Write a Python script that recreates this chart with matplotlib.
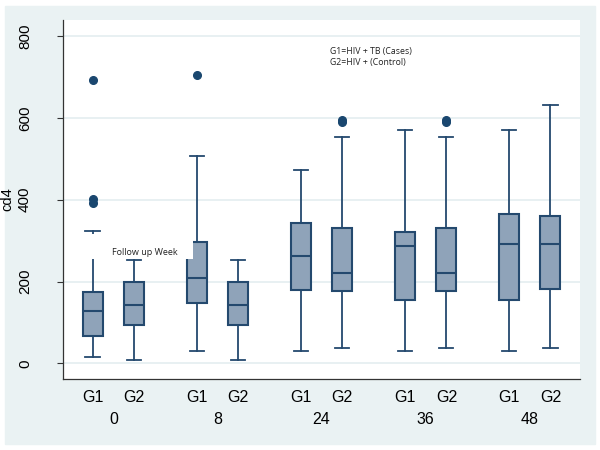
import matplotlib.pyplot as plt
from matplotlib.patches import Rectangle
from matplotlib.transforms import blended_transform_factory

# datos (cd4 por grupo y semana)
weeks = ["0", "8", "24", "36", "48"]
groups = ["G1", "G2"]
whislo = [16, 8, 31, 8, 31, 38, 31, 38, 31, 38]
q1 = [68, 93, 148, 93, 179, 178, 155, 178, 155, 181]
med = [127, 142, 208, 142, 262, 222, 287, 222, 291, 293]
q3 = [175, 200, 296, 200, 344, 330, 322, 330, 365, 361]
whishi = [324, 252, 507, 252, 472, 554, 570, 554, 570, 631]
fliers = [[393, 402, 693], [], [705], [], [], [590, 594], [], [590, 594], [], []]

edge = "#24496E"
face = "#8FA3B9"
bg = "#EAF2F3"

plt.rcParams["font.family"] = ["Liberation Sans", "DejaVu Sans"]

fig = plt.figure(figsize=(6, 4.5), dpi=100)
fig.patches.append(Rectangle((5 / 600, 6 / 450), 590 / 600, 438 / 450,
                             transform=fig.transFigure, color=bg, zorder=-1))
ax = fig.add_axes([63 / 600, 1 - 379 / 450, 517 / 600, 359 / 450])
ax.set_facecolor("white")

stats = []
positions = []
for i in range(len(med)):
    stats.append(dict(whislo=whislo[i], q1=q1[i], med=med[i], q3=q3[i],
                      whishi=whishi[i], fliers=fliers[i]))
    positions.append(2.5 * (i // 2) + (i % 2))

ax.bxp(stats, positions=positions, widths=0.48, capwidths=0.34,
       patch_artist=True, showfliers=True,
       boxprops=dict(facecolor=face, edgecolor=edge, linewidth=1.5),
       medianprops=dict(color=edge, linewidth=1.5),
       whiskerprops=dict(color=edge, linewidth=1.3),
       capprops=dict(color=edge, linewidth=1.3),
       flierprops=dict(marker="o", markersize=5.5, markerfacecolor="#1A476F",
                       markeredgecolor="#1A476F"))

# recuadro blanco de la etiqueta
ax.add_patch(Rectangle((-0.49, 256), 2.9, 60, facecolor="white",
                       edgecolor="none", zorder=5))
ax.text(0.095, 0.351, "Follow up Week", transform=ax.transAxes, fontsize=6.5,
        family=["Open Sans", "DejaVu Sans"], color="#222222", va="center",
        ha="left", zorder=6)
ax.text(0.516, 0.925, "G1=HIV + TB (Cases)\nG2=HIV + (Control)",
        transform=ax.transAxes, fontsize=6.3, family=["Open Sans", "DejaVu Sans"],
        color="#222222", va="top", ha="left", linespacing=1.25, zorder=6)

ax.set_xlim(-0.71, 11.71)
ax.set_ylim(-38, 839)
ax.set_yticks([0, 200, 400, 600, 800])
ax.set_yticklabels(["0", "200", "400", "600", "800"], rotation=90, va="center")
ax.tick_params(axis="y", length=4.3, width=0.8, pad=18, labelsize=11, color="#333333")
ax.set_xticks(positions)
ax.set_xticklabels(groups * len(weeks))
ax.tick_params(axis="x", length=0, pad=8, labelsize=11.5)
ax.grid(axis="y", color="#E4EEF0", linewidth=1.2)
ax.set_axisbelow(True)
for s in ["top", "right"]:
    ax.spines[s].set_visible(False)
for s in ["left", "bottom"]:
    ax.spines[s].set_color("#333333")
    ax.spines[s].set_linewidth(0.9)

trans = blended_transform_factory(ax.transData, ax.transAxes)
for j, w in enumerate(weeks):
    ax.text(2.5 * j + 0.5, -0.114, w, transform=trans, ha="center", va="center",
            fontsize=11.5)

fig.text(7 / 600, 1 - 199 / 450, "cd4", rotation=90, ha="center", va="center",
         fontsize=10.5)

plt.savefig("out.png", dpi=100)
